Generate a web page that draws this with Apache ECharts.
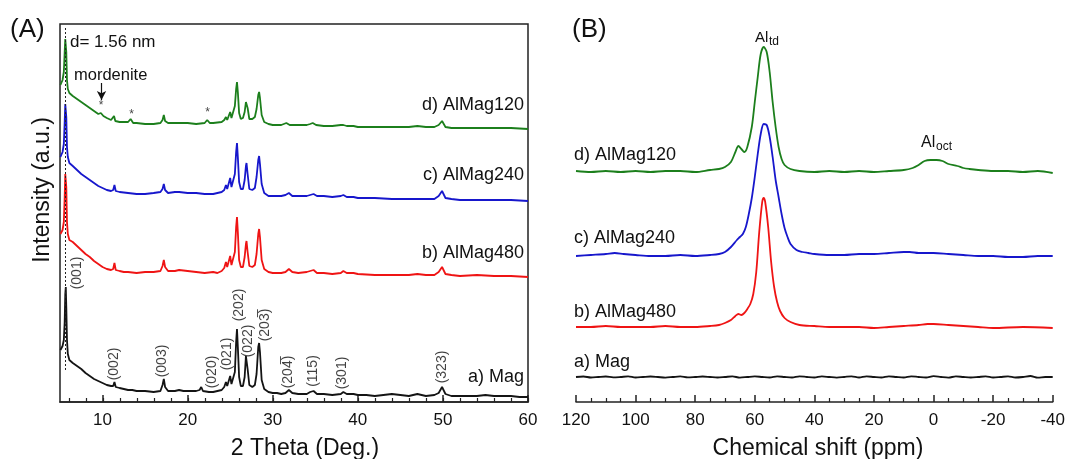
<!DOCTYPE html>
<html lang="en">
<head>
<meta charset="UTF-8">
<title>XRD and Al NMR</title>
<style>
  body { margin: 0; background: #fff; }
  #chart { width: 1068px; height: 459px; }
</style>
<script src="https://cdn.jsdelivr.net/npm/echarts/dist/echarts.min.js"></script>
</head>
<body>
<div id="chart"></div>
<script>
// ---- panel A : XRD patterns, [2theta, intensity] ----
var xrdMag = [[5.05,52],[5.3,56],[5.45,62],[5.55,80],[5.62,108],[5.68,115],[5.74,95],[5.82,62],[5.92,48],[6.1,42],[6.5,39],[7,36],[7.5,33],[8,29],[8.5,26],[9,23],[9.5,21],[10,19],[10.5,17],[11,16],[11.25,16],[11.4,20],[11.55,15],[12,14],[12.5,13],[13,12],[13.5,12],[14,11],[15,11],[16,10],[16.8,11],[17.05,17],[17.2,23],[17.35,15],[17.7,11],[18.5,11],[19,12],[19.5,11],[20,11],[21,11],[21.4,12],[21.6,15],[21.8,11],[22.5,10],[23,10],[23.5,11],[24,12],[24.3,15],[24.5,20],[24.65,16],[24.8,17],[25.0,26],[25.15,18],[25.35,17],[25.55,30],[25.7,60],[25.8,73],[25.9,55],[26.05,25],[26.25,16],[26.5,16],[26.7,25],[26.85,46],[26.92,48],[27.05,33],[27.25,17],[27.6,15],[27.9,17],[28.1,28],[28.3,55],[28.4,59],[28.5,50],[28.7,22],[29,13],[29.5,10],[30,9],[30.5,9],[31,8],[31.5,9],[31.9,12],[32.3,9],[33,8],[34,8],[34.4,10],[34.8,11],[35.2,8],[36,8],[37,7],[38,8],[38.3,10],[38.7,8],[39.5,8],[40,7],[41,7],[42,6],[43,7],[44,8],[45,7],[46,6],[47,8],[48,6],[49,7],[49.5,9],[49.9,15],[50.3,8],[51,6],[52,6],[53,6],[54,6],[55,7],[56,6],[57,6],[58,6],[59,5],[60,5]];
var xrd480 = [[5.05,168],[5.3,172],[5.45,180],[5.55,205],[5.62,228],[5.68,230],[5.74,215],[5.82,180],[5.92,168],[6.1,162],[6.5,160],[7,156],[7.5,152],[8,148],[8.5,145],[9,141],[9.5,138],[10,135],[10.5,133],[11,132],[11.25,133],[11.4,139],[11.55,132],[12,131],[12.5,130],[13,130],[14,129],[15,130],[16,130],[16.8,131],[17.05,136],[17.2,142],[17.35,135],[17.7,131],[18.5,131],[19,132],[20,131],[21,130],[22,129],[23,130],[23.5,129],[24,131],[24.3,134],[24.5,140],[24.65,135],[24.8,137],[25.0,146],[25.15,137],[25.35,137],[25.55,150],[25.7,175],[25.8,185],[25.9,170],[26.05,142],[26.25,135],[26.5,135],[26.7,145],[26.85,158],[26.92,161],[27.05,150],[27.25,136],[27.6,135],[27.9,137],[28.1,148],[28.3,168],[28.4,173],[28.5,165],[28.7,142],[29,133],[29.5,130],[30,129],[31,129],[31.5,130],[31.9,133],[32.3,130],[33,129],[34,130],[34.4,131],[34.8,132],[35.2,129],[36,129],[37,128],[38,129],[38.3,131],[38.7,129],[39.5,129],[40,128],[42,127],[44,127],[46,127],[47,128],[48,127],[49,127],[49.5,130],[49.9,135],[50.3,128],[51,127],[52,126],[54,127],[56,126],[58,126],[60,125]];
var xrd240 = [[5.05,245],[5.3,250],[5.45,258],[5.55,280],[5.62,298],[5.68,299],[5.74,285],[5.82,255],[5.92,245],[6.1,239],[6.5,236],[7,232],[7.5,228],[8,225],[8.5,222],[9,219],[9.5,216],[10,214],[10.5,212],[11,211],[11.25,212],[11.4,217],[11.55,211],[12,210],[13,209],[14,208],[15,208],[16,209],[16.8,210],[17.05,213],[17.2,218],[17.35,212],[17.7,209],[18.5,210],[19,210],[20,209],[21,209],[22,208],[23,208],[24,210],[24.3,212],[24.5,217],[24.65,213],[24.8,215],[25.0,224],[25.15,215],[25.35,215],[25.55,228],[25.7,250],[25.8,259],[25.9,245],[26.05,220],[26.25,213],[26.5,213],[26.7,222],[26.85,236],[26.92,239],[27.05,228],[27.25,213],[27.6,212],[27.9,214],[28.1,225],[28.3,242],[28.4,246],[28.5,238],[28.7,218],[29,209],[29.5,206],[30,206],[31,206],[31.5,207],[31.9,209],[32.3,206],[33,206],[34,206],[34.4,207],[34.8,208],[35.2,206],[36,206],[37,205],[38,206],[38.3,207],[38.7,205],[39.5,205],[40,204],[42,204],[44,203],[46,203],[47,203],[48,203],[49,203],[49.5,206],[49.9,211],[50.3,204],[51,203],[52,202],[54,202],[56,202],[58,202],[60,201]];
var xrd120 = [[5.05,317],[5.3,322],[5.45,330],[5.55,350],[5.62,363],[5.68,364],[5.74,350],[5.82,322],[5.92,313],[6.1,309],[6.5,306],[7,303],[7.5,300],[8,297],[8.5,294],[9,291],[9.5,288],[9.8,289],[10.1,286],[10.5,284],[11,282],[11.2,283],[11.35,286],[11.5,281],[12,280],[12.5,280],[13,280],[13.3,283],[13.6,279],[14,279],[15,278],[16,278],[16.8,279],[17.05,282],[17.2,287],[17.35,281],[17.7,279],[18.5,279],[19,279],[20,279],[21,278],[22,279],[22.3,282],[22.6,279],[23,279],[24,280],[24.3,282],[24.5,285],[24.65,282],[24.8,284],[25.0,290],[25.15,284],[25.35,284],[25.55,296],[25.7,313],[25.8,320],[25.9,310],[26.05,289],[26.25,283],[26.5,284],[26.7,290],[26.85,300],[26.92,302],[27.05,294],[27.25,283],[27.6,283],[27.9,285],[28.1,293],[28.3,307],[28.4,310],[28.5,304],[28.7,287],[29,280],[29.5,278],[30,277],[31,277],[31.3,278],[31.6,279],[32,277],[33,277],[34,277],[34.4,278],[34.7,279],[35.1,277],[36,276],[37,276],[38,277],[38.3,277],[38.7,276],[39.5,276],[40,275],[42,275],[44,275],[46,275],[47,276],[48,275],[49,275],[49.5,277],[49.9,281],[50.3,275],[51,274],[52,274],[54,274],[56,274],[58,274],[60,273]];

var xrdMajor = [10, 20, 30, 40, 50, 60];

// Miller indices: [2theta, height, text]
var hklLabels = [[7.06,129,'(001)'],[11.4,38,'(002)'],[17.06,41,'(003)'],[22.9,30,'(020)'],[24.6,48,'(021)'],[26.0,97,'(202)'],[27.06,61,'(022)'],[29.06,77,'(203\u0305)'],[31.8,30,'(204\u0305)'],[34.7,31,'(115)'],[38.2,29,'(301)'],[49.9,35,'(323)']];
var mordeniteStars = [[9.84,296],[13.4,287],[22.35,289]];
var d001 = 5.66;

// ---- panel B : 27Al NMR, [ppm, intensity] ----
var nmrMag = [[120,25],[117.5,25.5],[115,24.5],[112.5,25],[110,25.5],[107.5,24.6],[105,25],[102.5,25.6],[100,24.5],[97.5,25],[95,25.5],[92.5,25],[90,24.4],[87.5,25],[85,25.6],[82.5,24.6],[80,25],[77.5,25.5],[75,25],[72.5,24.5],[70,25],[67.5,25.6],[65,24.4],[62.5,25],[60,25.6],[57.5,25],[55,24.5],[52.5,25.6],[50,25],[47.5,24.5],[45,25.7],[42.5,25],[40,24.5],[37.5,25.6],[35,25],[32.5,24.4],[30,25],[27.5,25.7],[25,24.5],[22.5,25.6],[20,25],[17.5,24.5],[15,25.6],[12.5,25],[10,24.5],[7.5,25.7],[5,25],[2.5,24.5],[0,25.8],[-2.5,25],[-5,24.4],[-7.5,25.6],[-10,25],[-12.5,24.5],[-15,25],[-17.5,25.6],[-20,24.5],[-22.5,25],[-25,25.6],[-27.5,24.5],[-30,25],[-32.5,26],[-35,24.3],[-37.5,25],[-40,25]];
var nmr480 = [[120,75],[115,75],[110,76],[105,75],[100,75],[95,75],[90,76],[85,75],[80,75],[75,76],[72,77],[70,79],[68,82],[66.5,86],[65.5,88],[64.5,87],[63.5,89],[62.5,93],[61.5,98],[60.5,108],[59.5,130],[58.5,170],[57.5,200],[57,204],[56.5,200],[55.5,175],[54.5,140],[53.5,115],[52.5,100],[51.5,91],[50,84],[48,80],[45,77],[40,76],[35,75],[30,75],[25,75],[20,74],[15,75],[10,76],[5,77],[2,78],[0,78],[-5,77],[-10,76],[-15,75],[-20,74],[-30,75],[-40,74]];
var nmr240 = [[120,146],[115,147],[110,148],[107,149],[104,148],[100,147],[95,146],[90,146],[85,147],[80,146],[75,147],[72,148],[70,150],[68,155],[66,162],[65,165],[64,168],[63,175],[62,188],[61,204],[60,225],[59,248],[58,268],[57,278],[56,277],[55,265],[54,245],[53,222],[52,205],[51,188],[50,174],[49,165],[48,158],[46,152],[44,150],[42,149],[40,148],[35,147],[30,147],[25,148],[20,148],[15,149],[10,150],[8,150],[5,149],[0,149],[-5,148],[-10,147],[-15,146],[-20,146],[-25,145],[-30,145],[-35,146],[-40,146]];
var nmr120 = [[120,231],[115,230],[110,231],[105,230],[100,231],[95,230],[90,231],[85,231],[80,230],[75,232],[72,233],[70,235],[68,240],[66.5,250],[65.5,256],[64.5,253],[63.5,250],[62.5,255],[61,275],[60,300],[59,325],[58,348],[57,355],[56,350],[55,330],[54,300],[53,275],[52,255],[51,243],[50,237],[48,233],[45,231],[40,230],[35,231],[30,230],[25,231],[20,230],[15,231],[10,232],[7,234],[5,237],[3,241],[1,242],[-1,242],[-3,241],[-5,238],[-8,236],[-10,234],[-12,233],[-15,232],[-20,231],[-25,231],[-30,230],[-35,231],[-40,229]];

var sampleNames = ['a) Mag', 'b) AlMag480', 'c) AlMag240', 'd) AlMag120'];
var colors = ['#141414', '#ef1414', '#1717cc', '#1c7f1c'];

var font = 'Arial, "Liberation Sans", sans-serif';
var chart = echarts.init(document.getElementById('chart'));

function lineSeries(data, color, xi, smooth) {
    return {
        type: 'line', data: data, xAxisIndex: xi, yAxisIndex: xi,
        showSymbol: false, smooth: smooth, silent: true,
        lineStyle: { color: color, width: 1.8 }
    };
}

var txt = function (x, y, text, size, align, extra) {
    var el = {
        type: 'text', x: x, y: y, silent: true,
        style: { text: text, fontSize: size, fontFamily: font, fill: '#111', align: align, verticalAlign: 'middle' }
    };
    for (var k in extra) el[k] = extra[k];
    return el;
};

var xrdSeries = [xrdMag, xrd480, xrd240, xrd120].map(function (d, i) {
    return lineSeries(d, colors[i], 0, false);
});
var nmrSeries = [nmrMag, nmr480, nmr240, nmr120].map(function (d, i) {
    return lineSeries(d, colors[i], 1, 0.3);
});

// dotted line at d001 and the mordenite arrow
xrdSeries[0].markLine = {
    silent: true, symbol: 'none', label: { show: false },
    lineStyle: { color: '#222', type: [2, 2], width: 1 },
    data: [[{ coord: [d001, 374] }, { coord: [d001, 30] }]]
};
xrdSeries[3].markLine = {
    silent: true, symbol: ['none', 'arrow'], symbolSize: [7, 9], label: { show: false },
    lineStyle: { color: '#111', type: 'solid', width: 1.2 },
    data: [[{ coord: [9.88, 319] }, { coord: [9.88, 302] }]]
};

var axisLineStyle = { color: '#222', width: 1.5 };
var labelStyle = { fontSize: 17, fontFamily: font, color: '#111', margin: 10 };

var option = {
    animation: false,
    backgroundColor: '#fff',
    grid: [
        { left: 60, top: 24, width: 468, height: 378, show: true, borderColor: '#222', borderWidth: 1.5, backgroundColor: 'transparent' },
        { left: 576, top: 24, width: 478, height: 378 },
        // same scale as panel A, starting at 6, only for the 2-degree minor ticks
        { left: 69, top: 24, width: 459, height: 378 }
    ],
    xAxis: [
        {
            gridIndex: 0, type: 'value', min: 5, max: 60,
            axisLine: { lineStyle: axisLineStyle },
            axisTick: { inside: true, length: 7, customValues: xrdMajor, lineStyle: axisLineStyle },
            axisLabel: Object.assign({ customValues: xrdMajor }, labelStyle),
            splitLine: { show: false }
        },
        {
            gridIndex: 1, type: 'value', min: -40, max: 120, interval: 20, inverse: true,
            axisLine: { lineStyle: axisLineStyle },
            axisTick: { inside: true, length: 7, lineStyle: axisLineStyle },
            minorTick: { show: true, splitNumber: 4, length: 4, lineStyle: { color: '#222', width: 1.2 } },
            axisLabel: labelStyle,
            splitLine: { show: false }
        },
        {
            gridIndex: 2, type: 'value', min: 6, max: 60, interval: 2,
            axisLine: { show: false },
            axisTick: { show: true, inside: true, length: 4, lineStyle: { color: '#222', width: 1.2 } },
            axisLabel: { show: false },
            splitLine: { show: false }
        }
    ],
    yAxis: [
        { gridIndex: 0, type: 'value', min: 0, max: 378, show: false },
        { gridIndex: 1, type: 'value', min: 0, max: 378, show: false },
        { gridIndex: 2, type: 'value', min: 0, max: 378, show: false }
    ],
    series: xrdSeries.concat(nmrSeries).concat([
        {
            type: 'scatter', xAxisIndex: 0, yAxisIndex: 0, symbolSize: 0, silent: true,
            data: hklLabels,
            label: {
                show: true, position: 'inside', rotate: 90,
                fontSize: 14, fontFamily: font, color: '#111',
                formatter: function (p) { return p.value[2]; }
            }
        },
        {
            type: 'scatter', xAxisIndex: 0, yAxisIndex: 0, symbolSize: 0, silent: true,
            data: mordeniteStars,
            label: { show: true, position: 'inside', fontSize: 12, fontFamily: font, color: '#111', formatter: '*' }
        }
    ]),
    graphic: [
        txt(10, 30, '(A)', 26, 'left'),
        txt(572, 30, '(B)', 26, 'left'),
        txt(70, 42, 'd= 1.56 nm', 17, 'left'),
        txt(74, 75, 'mordenite', 16.5, 'left'),
        txt(524, 105, sampleNames[3], 18, 'right'),
        txt(524, 175, sampleNames[2], 18, 'right'),
        txt(524, 253, sampleNames[1], 18, 'right'),
        txt(524, 377, sampleNames[0], 18, 'right'),
        txt(574, 155, sampleNames[3], 18, 'left'),
        txt(574, 238, sampleNames[2], 18, 'left'),
        txt(574, 312, sampleNames[1], 18, 'left'),
        txt(574, 362, sampleNames[0], 18, 'left'),
        txt(755, 38, 'Al', 15, 'left'),
        txt(769, 42, 'td', 12, 'left'),
        txt(921, 143, 'Al', 16, 'left'),
        txt(936, 147, 'oct', 12, 'left'),
        txt(43, 190, 'Intensity (a.u.)', 23, 'center', { rotation: Math.PI / 2 }),
        txt(305, 449, '2 Theta (Deg.)', 23, 'center'),
        txt(818, 449, 'Chemical shift (ppm)', 23, 'center')
    ]
};

chart.setOption(option);
</script>
</body>
</html>
